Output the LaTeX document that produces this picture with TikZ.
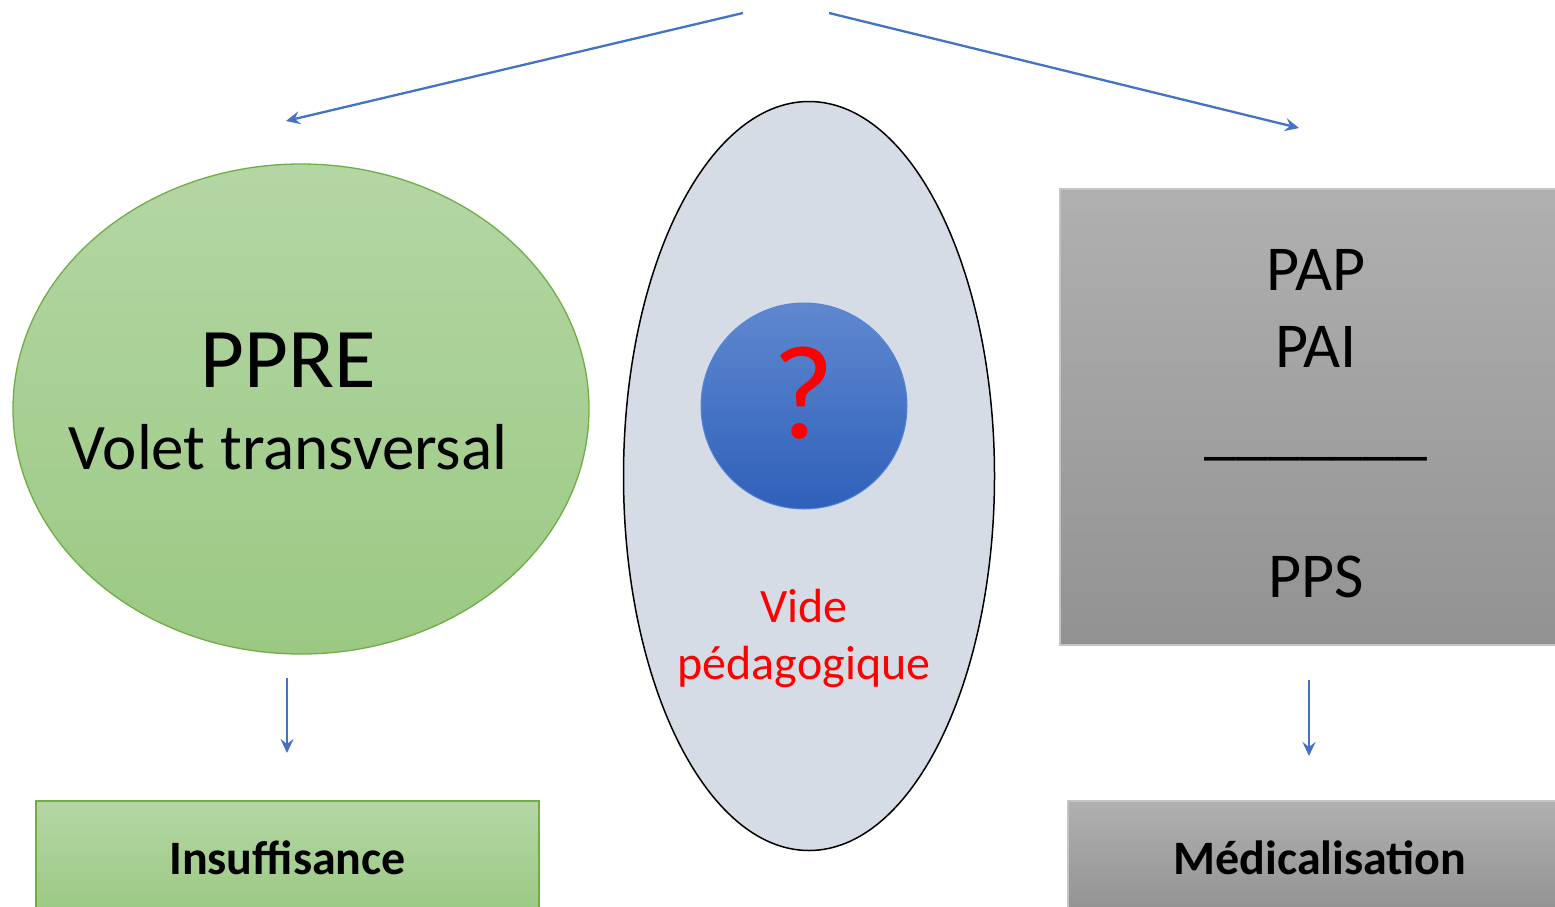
\documentclass[tikz,border=0pt]{standalone}
\usepackage{fontspec}
\setmainfont{Carlito}
\usetikzlibrary{arrows.meta,shapes.geometric}
\definecolor{arrowblue}{HTML}{4472C4}
\definecolor{greentop}{HTML}{B4D6A4}
\definecolor{greenbot}{HTML}{9BC983}
\definecolor{greenline}{HTML}{70AD47}
\definecolor{voidfill}{HTML}{D6DCE5}
\definecolor{bluetop}{HTML}{5F88CF}
\definecolor{bluebot}{HTML}{2F60BA}
\definecolor{blueline}{HTML}{5585D4}
\definecolor{graytop}{HTML}{B0B0B0}
\definecolor{graybot}{HTML}{929292}
\definecolor{grayline}{HTML}{C4C4C4}
\definecolor{qred}{HTML}{FF0000}
\tikzset{
  arr/.style={draw=arrowblue, line width=2.3pt, -{Stealth[length=14pt,width=13pt,inset=5pt]}},
  greenshape/.style={top color=greentop, bottom color=greenbot, draw=greenline, line width=1.3pt},
  grayshape/.style={top color=graytop, bottom color=graybot, draw=grayline, line width=1.3pt},
  lbl/.style={inner sep=0pt, text=black},
}
\begin{document}
\begin{tikzpicture}[x=1pt,y=-1pt]
\useasboundingbox (0,0) rectangle (1555,906);

% green ellipse
\node[greenshape, ellipse, minimum width=576pt, minimum height=490pt, inner sep=0pt] (ppre) at (301,409) {};
\node[lbl, font=\fontsize{85}{90}\selectfont] (ppret) at (288,360) {PPRE};
\node[lbl, font=\fontsize{65}{70}\selectfont] (volet) at (288,447) {Volet transversal};

% central ellipse
\node[ellipse, fill=voidfill, draw=black, line width=1.5pt, minimum width=371pt, minimum height=749pt, inner sep=0pt] (vide) at (809,476) {};
\node[circle, top color=bluetop, bottom color=bluebot, draw=blueline, line width=1pt, minimum size=206pt, inner sep=0pt] (circ) at (804,406) {};
\node[lbl, text=qred, font=\fontsize{134}{140}\selectfont] (q) at (804,393) {?};
\node[lbl, text=qred, font=\fontsize{48}{57}\selectfont, align=center] (videt) at (804,638) {Vide\\pédagogique};

% gray rectangle
\node[grayshape, rectangle, minimum width=512pt, minimum height=456pt, inner sep=0pt] (pap) at (1316,417) {};
\node[lbl, font=\fontsize{64}{70}\selectfont] (papt) at (1316,270) {PAP};
\node[lbl, font=\fontsize{64}{70}\selectfont] (pait) at (1316,347) {PAI};
\node[lbl, font=\fontsize{64}{70}\selectfont, anchor=base] (sep) at (1316,452) {\_\_\_\_\_\_\_};
\node[lbl, font=\fontsize{64}{70}\selectfont] (ppst) at (1316,577) {PPS};

% bottom boxes
\node[greenshape, rectangle, minimum width=503pt, minimum height=114pt, inner sep=0pt, font=\fontsize{48}{54}\selectfont\bfseries] (insuf) at (287.5,858) {Insuffisance};
\node[grayshape, rectangle, minimum width=504pt, minimum height=114pt, inner sep=0pt, font=\fontsize{48}{54}\selectfont\bfseries] (medic) at (1320,858) {Médicalisation};

% connectors
\coordinate (topl) at (743,13);
\coordinate (topr) at (829,13);
\coordinate (endl) at (286,121);
\coordinate (endr) at (1299,128);
\draw[arr] (topl) -- (endl);
\draw[arr] (topr) -- (endr);

\coordinate (dl) at (287,678);
\coordinate (dr) at (1309,680);
\coordinate (dlend) at (287,753);
\coordinate (drend) at (1309,756);
\draw[arr] (dl) -- (dlend);
\draw[arr] (dr) -- (drend);
\end{tikzpicture}
\end{document}
